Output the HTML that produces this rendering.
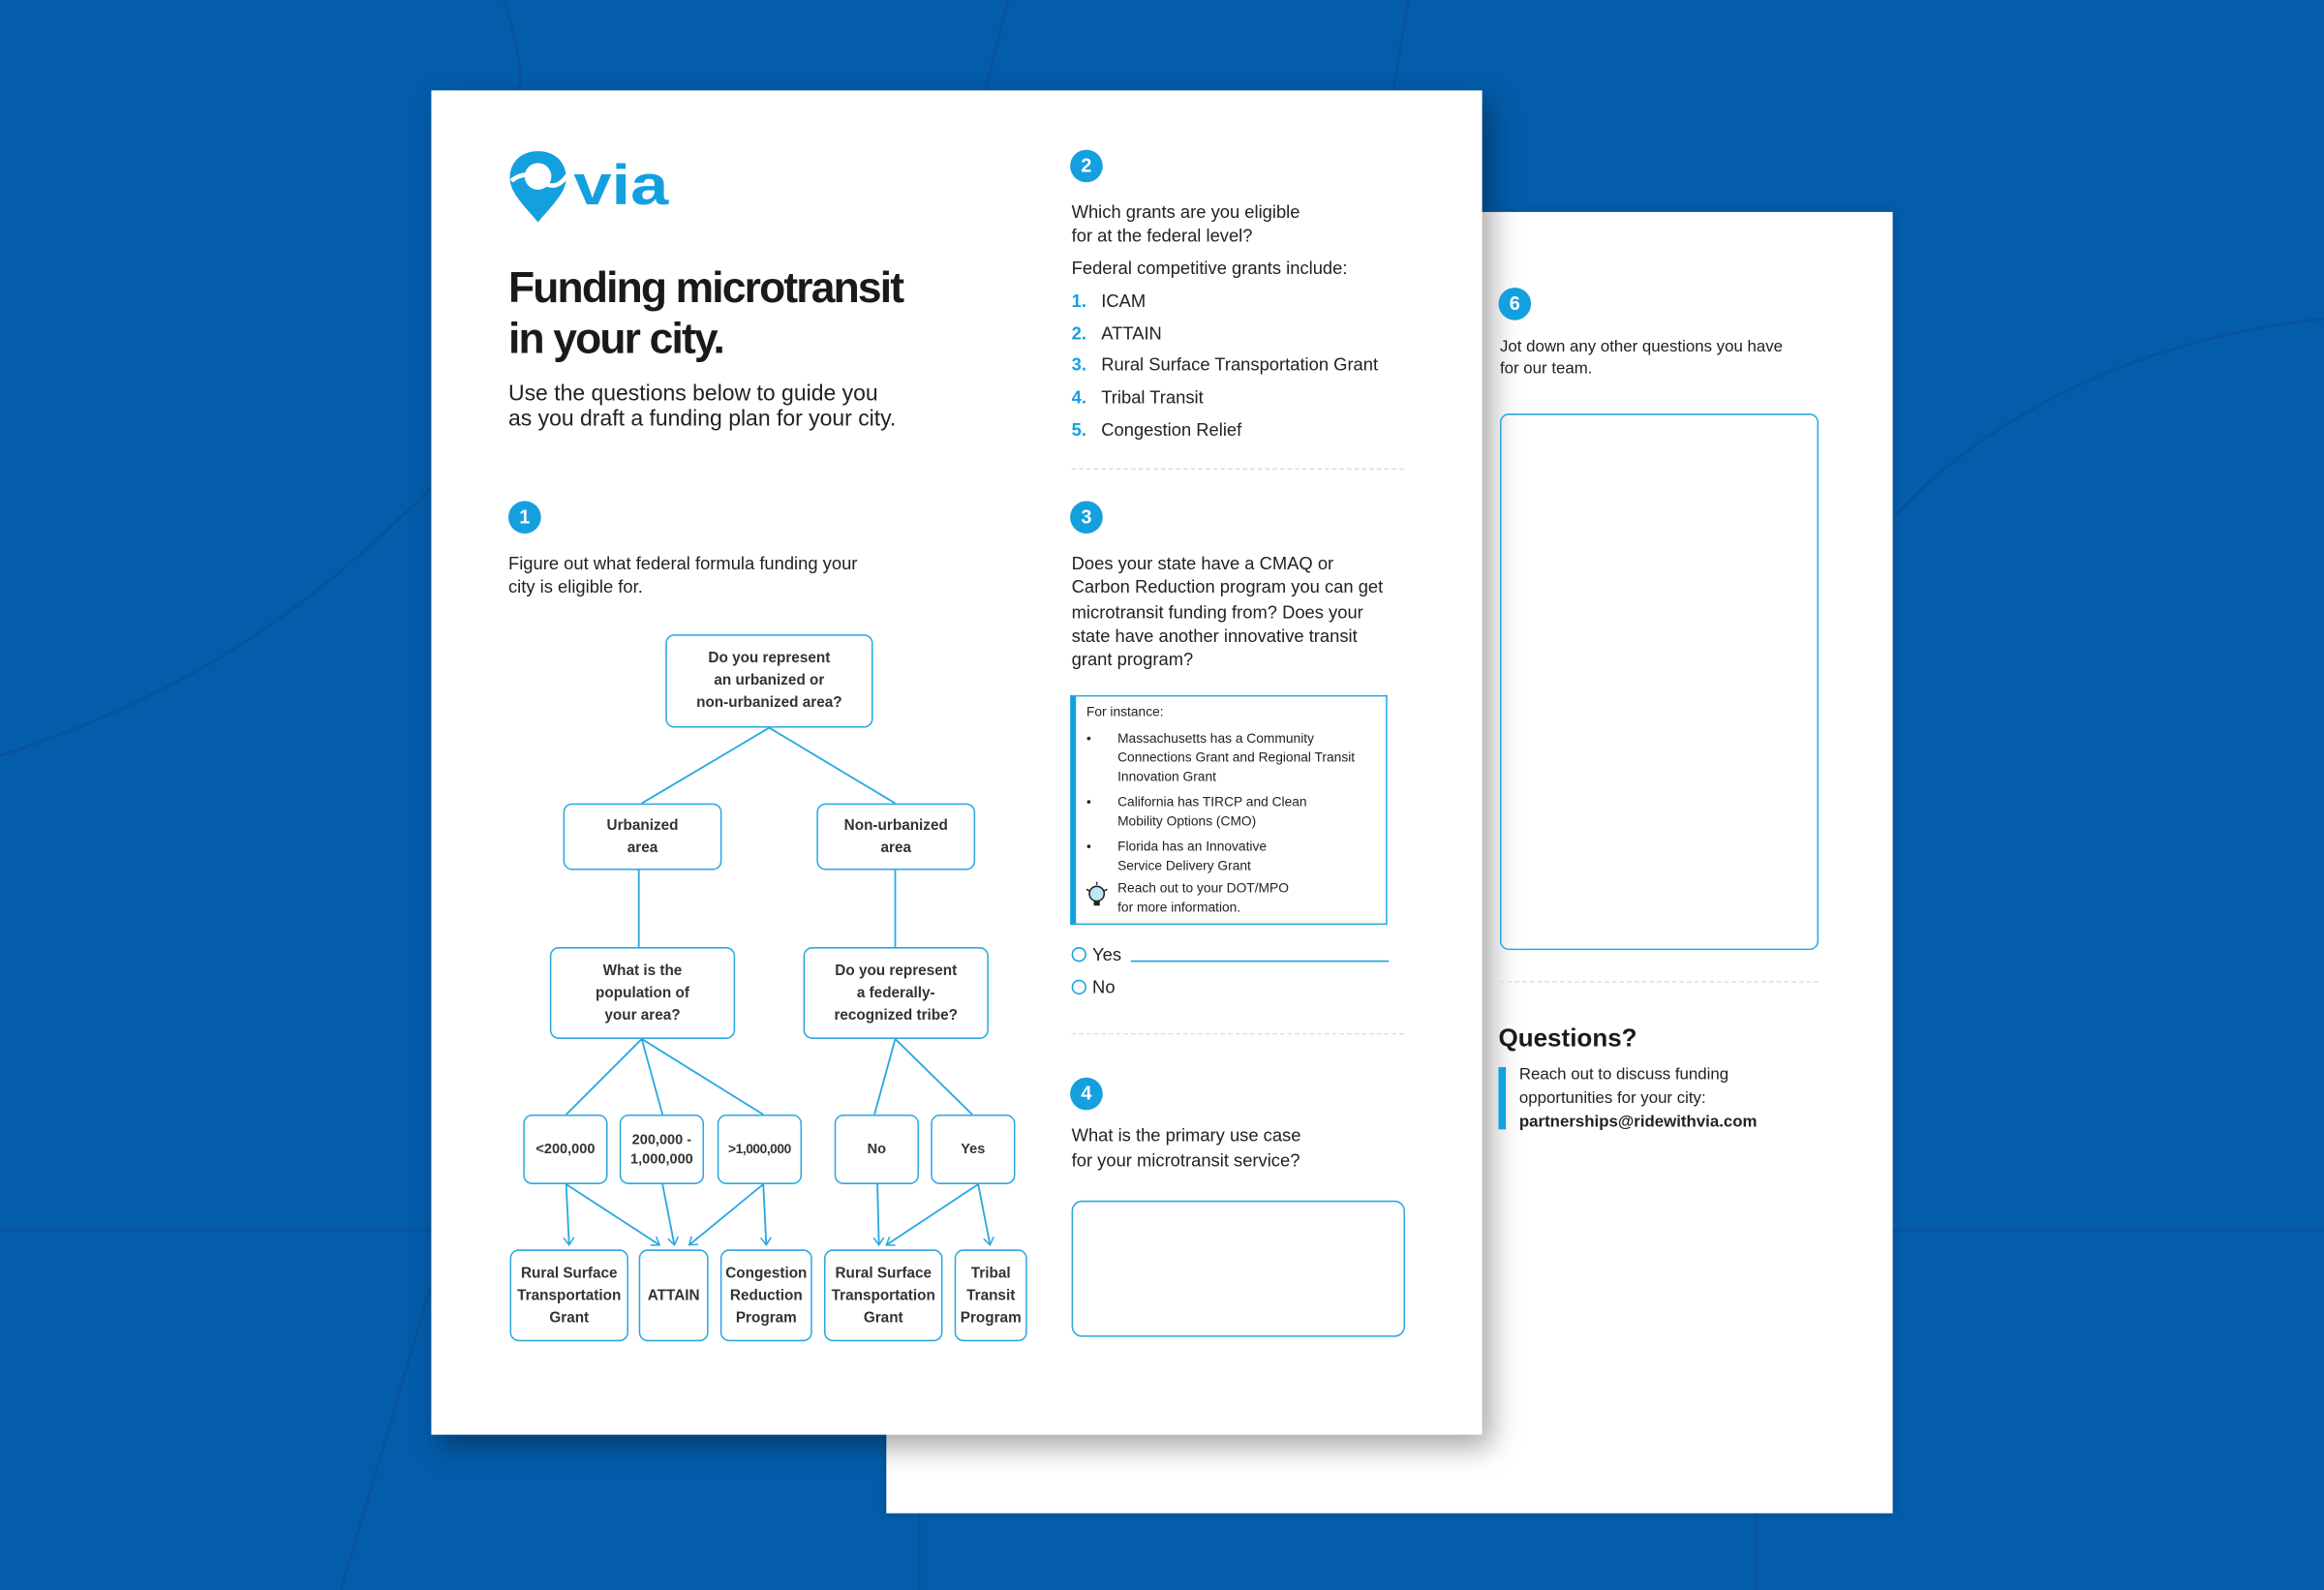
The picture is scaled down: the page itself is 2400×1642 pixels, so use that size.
<!DOCTYPE html>
<html><head><meta charset="utf-8"><style>
*{margin:0;padding:0;box-sizing:border-box}
html,body{width:2400px;height:1642px;overflow:hidden;background:#045dab}
#w{position:absolute;left:0;top:0;width:1568px;height:1073px;transform:scale(1.530612);transform-origin:0 0;font-family:"Liberation Sans",sans-serif;color:#222}
.a{position:absolute;white-space:nowrap}
.pg{position:absolute;background:#fff}
.c{position:absolute;width:22px;height:22px;border-radius:50%;background:#14a0df;color:#fff;font-weight:bold;font-size:13px;line-height:22px;text-align:center}
.t{font-size:12px;line-height:16px}
.b{position:absolute;border:1.3px solid #2aa8e2;border-radius:6px;display:flex;align-items:center;justify-content:center;text-align:center;font-size:10px;font-weight:bold;line-height:15px;color:#333}
.dash{position:absolute;border-top:1px dashed #ddd;height:0}
.s{font-size:9px;line-height:13px}
</style></head><body><div id="w">
<svg class="a" style="left:0;top:0" width="1568" height="1073">
<g fill="none" stroke="#0a4f93" stroke-width="2" opacity=".6">
<path d="M0 510 C120 470 200 420 290 330"/>
<path d="M0 830 H291"/><path d="M1277 830 H1568"/>
<path d="M340 0 C350 30 352 50 350 61"/>
<path d="M680 0 L665 61"/><path d="M950 0 L940 61"/>
<path d="M1568 215 C1430 230 1330 290 1277 350"/>
<path d="M290 870 L230 1073"/><path d="M620 1021 V1073"/><path d="M1185 1021 V1073"/>
</g></svg>
<div class="pg" style="left:598px;top:143px;width:679px;height:878px;box-shadow:0 0 6px rgba(0,0,0,.2)"></div>
<div class="pg" style="left:291px;top:61px;width:709px;height:907px;box-shadow:6px 8px 18px rgba(0,0,0,.35)"></div>
<!-- logo -->
<svg class="a" style="left:343px;top:100px" width="112" height="52">
<path d="M20 2 C8 2 1 10 1 20 C1 30 10 38 20 50 C30 38 39 30 39 20 C39 10 32 2 20 2Z" fill="#14a0df"/>
<circle cx="20" cy="19" r="9" fill="#fff"/>
<path d="M2 22 Q12 14 22 22 T40 18" stroke="#fff" stroke-width="3" fill="none"/>
<text x="44" y="38" font-family="Liberation Sans" font-weight="bold" font-size="38" fill="#14a0df" textLength="64" lengthAdjust="spacingAndGlyphs">via</text>
</svg>
<div class="a" style="left:343px;top:178px;font-size:29px;line-height:34px;font-weight:bold;letter-spacing:-1.2px;color:#1a1a1a">Funding microtransit<br>in your city.</div>
<div class="a" style="left:343px;top:257px;font-size:15px;line-height:17px">Use the questions below to guide you<br>as you draft a funding plan for your city.</div>
<div class="c" style="left:343px;top:338px">1</div>
<div class="a t" style="left:343px;top:372px">Figure out what federal formula funding your<br>city is eligible for.</div>
<!-- flowchart lines -->
<svg class="a" style="left:0;top:0" width="1000" height="1000"><defs><marker id="m" markerWidth="10" markerHeight="10" refX="6" refY="4" orient="auto" markerUnits="userSpaceOnUse"><path d="M1 0.5 L6 4 L1 7.5" fill="none" stroke="#2aa8e2" stroke-width="1"/></marker></defs>
<g stroke="#2aa8e2" stroke-width="1.2" fill="none">
<path d="M519 491 L433 542 M519 491 L604 542 M431 587 V639 M604 587 V639 M433 701 L382 752 M433 701 L447 752 M433 701 L515 752 M604 701 L590 752 M604 701 L656 752"/>
<path d="M382 799 L384 840" marker-end="url(#m)"/><path d="M382 799 L445 840" marker-end="url(#m)"/>
<path d="M447 799 L455 840" marker-end="url(#m)"/><path d="M515 799 L465 840" marker-end="url(#m)"/>
<path d="M515 799 L517 840" marker-end="url(#m)"/><path d="M592 799 L593 840" marker-end="url(#m)"/>
<path d="M660 799 L598 840" marker-end="url(#m)"/><path d="M660 799 L668 840" marker-end="url(#m)"/>
</g></svg>
<div class="b" style="left:449px;top:428px;width:140px;height:63px">Do you represent<br>an urbanized or<br>non-urbanized area?</div>
<div class="b" style="left:380px;top:542px;width:107px;height:45px">Urbanized<br>area</div>
<div class="b" style="left:551px;top:542px;width:107px;height:45px">Non-urbanized<br>area</div>
<div class="b" style="left:371px;top:639px;width:125px;height:62px">What is the<br>population of<br>your area?</div>
<div class="b" style="left:542px;top:639px;width:125px;height:62px">Do you represent<br>a federally-<br>recognized tribe?</div>
<div class="b" style="left:353px;top:752px;width:57px;height:47px;font-size:9.5px">&lt;200,000</div>
<div class="b" style="left:418px;top:752px;width:57px;height:47px;font-size:9.5px;line-height:13px">200,000 -<br>1,000,000</div>
<div class="b" style="left:484px;top:752px;width:57px;height:47px;font-size:9px;letter-spacing:-0.3px">&gt;1,000,000</div>
<div class="b" style="left:563px;top:752px;width:57px;height:47px;font-size:9.5px">No</div>
<div class="b" style="left:628px;top:752px;width:57px;height:47px;font-size:9.5px">Yes</div>
<div class="b" style="left:344px;top:843px;width:80px;height:62px">Rural Surface<br>Transportation<br>Grant</div>
<div class="b" style="left:431px;top:843px;width:47px;height:62px">ATTAIN</div>
<div class="b" style="left:486px;top:843px;width:62px;height:62px">Congestion<br>Reduction<br>Program</div>
<div class="b" style="left:556px;top:843px;width:80px;height:62px">Rural Surface<br>Transportation<br>Grant</div>
<div class="b" style="left:644px;top:843px;width:49px;height:62px">Tribal<br>Transit<br>Program</div>
<!-- right column -->
<div class="c" style="left:722px;top:101px">2</div>
<div class="a t" style="left:723px;top:135px">Which grants are you eligible<br>for at the federal level?</div>
<div class="a t" style="left:723px;top:173px">Federal competitive grants include:</div>
<div class="a t" style="left:723px;top:193px;line-height:21.7px;color:#14a0df;font-weight:bold">1.<br>2.<br>3.<br>4.<br>5.</div>
<div class="a t" style="left:743px;top:193px;line-height:21.7px">ICAM<br>ATTAIN<br>Rural Surface Transportation Grant<br>Tribal Transit<br>Congestion Relief</div>
<div class="dash" style="left:723px;top:316px;width:224px"></div>
<div class="c" style="left:722px;top:338px">3</div>
<div class="a t" style="left:723px;top:372px;line-height:16.3px">Does your state have a CMAQ or<br>Carbon Reduction program you can get<br>microtransit funding from? Does your<br>state have another innovative transit<br>grant program?</div>
<div class="a" style="left:722px;top:469px;width:214px;height:155px;border:1.5px solid #2aa8e2;border-left:4px solid #14a0df"></div>
<div class="a s" style="left:733px;top:474px">For instance:</div>
<div class="a s" style="left:733px;top:492px">•</div>
<div class="a s" style="left:733px;top:535px">•</div>
<div class="a s" style="left:733px;top:565px">•</div>
<div class="a s" style="left:754px;top:492px">Massachusetts has a Community<br>Connections Grant and Regional Transit<br>Innovation Grant</div>
<div class="a s" style="left:754px;top:535px">California has TIRCP and Clean<br>Mobility Options (CMO)</div>
<div class="a s" style="left:754px;top:565px">Florida has an Innovative<br>Service Delivery Grant</div>
<div class="a s" style="left:754px;top:593px">Reach out to your DOT/MPO<br>for more information.</div>
<svg class="a" style="left:731px;top:594px" width="18" height="20"><circle cx="9" cy="9" r="5" fill="#bfe6f7" stroke="#222" stroke-width="1"/><path d="M7 14 h4 v3 h-4z" fill="#222"/><path d="M9 1 v2 M2 6 l2 1 M16 6 l-2 1" stroke="#222"/></svg>
<div class="a" style="left:723px;top:639px;width:10px;height:10px;border:1.5px solid #14a0df;border-radius:50%"></div>
<div class="a t" style="left:737px;top:636px">Yes</div>
<div class="a" style="left:763px;top:648px;width:174px;border-top:1.3px solid #14a0df"></div>
<div class="a" style="left:723px;top:661px;width:10px;height:10px;border:1.5px solid #14a0df;border-radius:50%"></div>
<div class="a t" style="left:737px;top:658px">No</div>
<div class="dash" style="left:723px;top:697px;width:224px"></div>
<div class="c" style="left:722px;top:727px">4</div>
<div class="a t" style="left:723px;top:758px;line-height:17px">What is the primary use case<br>for your microtransit service?</div>
<div class="a" style="left:723px;top:810px;width:225px;height:92px;border:1.3px solid #2aa8e2;border-radius:7px"></div>
<!-- back page -->
<div class="c" style="left:1011px;top:194px">6</div>
<div class="a" style="left:1012px;top:227px;font-size:11px;line-height:15px">Jot down any other questions you have<br>for our team.</div>
<div class="a" style="left:1012px;top:279px;width:215px;height:362px;border:1.3px solid #2aa8e2;border-radius:6px"></div>
<div class="dash" style="left:1012px;top:662px;width:215px"></div>
<div class="a" style="left:1011px;top:690px;font-size:17px;font-weight:bold;line-height:22px;color:#1a1a1a">Questions?</div>
<div class="a" style="left:1011px;top:720px;width:5px;height:42px;background:#14a0df"></div>
<div class="a" style="left:1025px;top:717px;font-size:11px;line-height:16px">Reach out to discuss funding<br>opportunities for your city:<br><b>partnerships@ridewithvia.com</b></div>
</div></body></html>
